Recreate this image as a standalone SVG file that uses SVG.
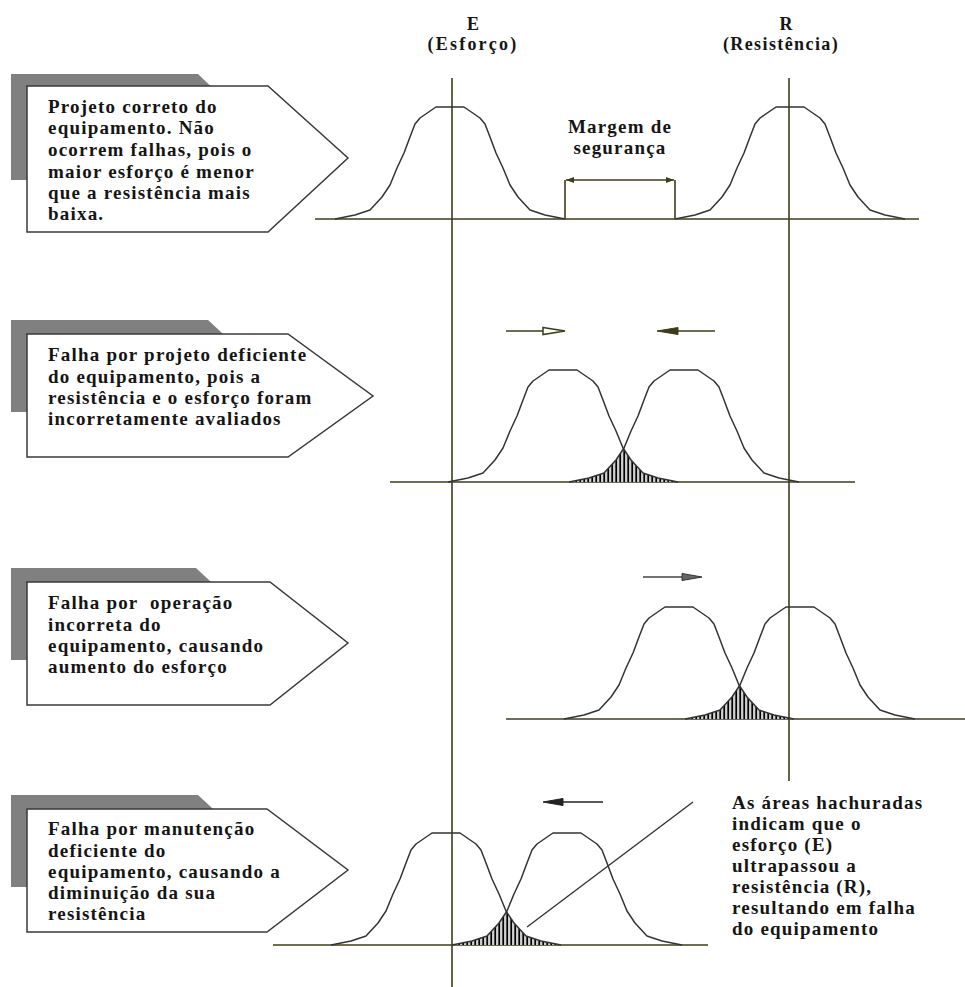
<svg xmlns="http://www.w3.org/2000/svg" xmlns:xlink="http://www.w3.org/1999/xlink" width="965" height="987" viewBox="0 0 965 987">
  <style>
    .txt { font-family: "Liberation Serif", "Times New Roman", serif; font-weight: bold; font-size: 19px; fill: #151515; letter-spacing: 1.2px; }
    .hdr { font-family: "Liberation Serif", "Times New Roman", serif; font-weight: bold; font-size: 18px; fill: #151515; text-anchor: middle; }
    .shadow { fill: #808080; }
    .box { fill: #fff; stroke: #3a3a3a; stroke-width: 1.5; stroke-linejoin: miter; }
    .axis { stroke: #3c3c1c; stroke-width: 1.6; fill: none; }
    .curve { fill: none; stroke: #333; stroke-width: 1.5; stroke-linejoin: round; }
    .arrow { stroke: #3c3c1c; stroke-width: 1.6; fill: none; }
    .hatched { fill: url(#hatch); stroke: none; }
  </style>
  <defs>
    <!-- normal-like distribution outline, centred on x=0, baseline at y=0 -->
    <path id="bell" d="M-115,0 L-95,-4 L-80,-9 L-68,-22 L-60,-34 L-53,-51 L-46,-66 L-40,-82 L-35,-95 L-30,-101 L-14,-112 L14,-112 L30,-101 L35,-95 L40,-82 L46,-66 L53,-51 L60,-34 L68,-22 L80,-9 L95,-4 L115,0"/>
    <pattern id="hatch" width="4" height="10" patternUnits="userSpaceOnUse">
      <rect width="4" height="10" fill="#d0d0d0"/>
      <line x1="1.2" y1="0" x2="1.2" y2="10" stroke="#000" stroke-width="1.7"/>
    </pattern>
    <!-- resistance curves used to cut the overlap out of the effort curves -->
    <clipPath id="clipR2" clipPathUnits="userSpaceOnUse"><use xlink:href="#bell" x="684" y="482"/></clipPath>
    <clipPath id="clipR3" clipPathUnits="userSpaceOnUse"><use xlink:href="#bell" x="800" y="719"/></clipPath>
    <clipPath id="clipR4" clipPathUnits="userSpaceOnUse"><use xlink:href="#bell" x="567" y="945"/></clipPath>
    <marker id="tick" viewBox="0 0 8 6" refX="8" refY="3" markerWidth="8" markerHeight="6" markerUnits="userSpaceOnUse" orient="auto-start-reverse">
      <path d="M0,0 L8,3 L0,6 z" fill="#3c3c1c"/>
    </marker>
  </defs>

  <rect width="965" height="987" fill="#fff"/>

  <!-- column headings -->
  <g id="header">
    <text class="hdr" x="473" y="30">E</text>
    <text class="hdr" x="473" y="50" style="letter-spacing:2.2px">(Esforço)</text>
    <text class="hdr" x="786" y="30">R</text>
    <text class="hdr" x="781" y="50" style="letter-spacing:1.4px">(Resistência)</text>
  </g>

  <!-- reference axes for effort and resistance -->
  <g id="connectors">
    <line class="axis" x1="452" y1="78" x2="452" y2="987"/>
    <line class="axis" x1="789" y1="78" x2="789" y2="781"/>
    <line class="axis" x1="315" y1="219" x2="919" y2="219"/>
    <line class="axis" x1="390" y1="482" x2="855" y2="482"/>
    <line class="axis" x1="506" y1="719" x2="965" y2="719"/>
    <line class="axis" x1="273" y1="945" x2="708" y2="945"/>
    <!-- leader from the hatched area to the note -->
    <line x1="527" y1="927" x2="693" y2="802" stroke="#333" stroke-width="1.4"/>
  </g>

  <!-- case 1: correct design -->
  <g id="box1">
    <polygon class="shadow" points="11,74 198,74 225,100 225,180 11,180"/>
    <polygon class="box" points="27,86 268,86 348,158 268,232 27,232"/>
    <text class="txt" x="48" y="113">Projeto correto do</text>
    <text class="txt" x="48" y="134">equipamento. Não</text>
    <text class="txt" x="48" y="156">ocorrem falhas, pois o</text>
    <text class="txt" x="48" y="178">maior esforço é menor</text>
    <text class="txt" x="48" y="199">que a resistência mais</text>
    <text class="txt" x="48" y="220">baixa.</text>
  </g>
  <g id="panel1">
    <use class="curve" xlink:href="#bell" x="450" y="219"/>
    <use class="curve" xlink:href="#bell" x="790" y="219"/>
    <line class="axis" x1="565" y1="180" x2="565" y2="219"/>
    <line class="axis" x1="675" y1="180" x2="675" y2="219"/>
    <line class="axis" x1="566" y1="180" x2="674" y2="180" marker-start="url(#tick)" marker-end="url(#tick)"/>
    <text class="hdr" x="620" y="133" style="font-size:19px;letter-spacing:1.2px">Margem de</text>
    <text class="hdr" x="620" y="154" style="font-size:19px;letter-spacing:1.2px">segurança</text>
  </g>

  <!-- case 2: deficient design -->
  <g id="box2">
    <polygon class="shadow" points="11,320 208,320 235,345 235,412 11,412"/>
    <polygon class="box" points="27,334 288,334 373,396 288,457 27,457"/>
    <text class="txt" x="48" y="361">Falha por projeto deficiente</text>
    <text class="txt" x="48" y="383">do equipamento, pois a</text>
    <text class="txt" x="48" y="404">resistência e o esforço foram</text>
    <text class="txt" x="48" y="425">incorretamente avaliados</text>
  </g>
  <g id="panel2">
    <g clip-path="url(#clipR2)">
      <use class="hatched" xlink:href="#bell" x="563" y="482"/>
    </g>
    <use class="curve" xlink:href="#bell" x="563" y="482"/>
    <use class="curve" xlink:href="#bell" x="684" y="482"/>
    <line class="arrow" x1="506" y1="331" x2="544" y2="331"/>
    <polygon points="543,327.5 565,331 543,334.5" fill="#fff" stroke="#3c3c1c" stroke-width="1.5"/>
    <line class="arrow" x1="677" y1="331" x2="715" y2="331"/>
    <polygon points="678,327.5 657,331 678,334.5" fill="#3c3c1c" stroke="#3c3c1c" stroke-width="1"/>
  </g>

  <!-- case 3: incorrect operation -->
  <g id="box3">
    <polygon class="shadow" points="11,568 196,568 225,595 225,660 11,660"/>
    <polygon class="box" points="27,582 270,582 348,643 270,705 27,705"/>
    <text class="txt" x="48" y="609" xml:space="preserve">Falha por  operação</text>
    <text class="txt" x="48" y="631">incorreta do</text>
    <text class="txt" x="48" y="652">equipamento, causando</text>
    <text class="txt" x="48" y="673">aumento do esforço</text>
  </g>
  <g id="panel3">
    <g clip-path="url(#clipR3)">
      <use class="hatched" xlink:href="#bell" x="679" y="719"/>
    </g>
    <use class="curve" xlink:href="#bell" x="679" y="719"/>
    <use class="curve" xlink:href="#bell" x="800" y="719"/>
    <line x1="643" y1="577" x2="683" y2="577" stroke="#444" stroke-width="1.5"/>
    <polygon points="682,573.5 702,577 682,580.5" fill="#666" stroke="#333" stroke-width="1"/>
  </g>

  <!-- case 4: deficient maintenance -->
  <g id="box4">
    <polygon class="shadow" points="11,795 198,795 225,820 225,887 11,887"/>
    <polygon class="box" points="27,809 267,809 348,870 267,932 27,932"/>
    <text class="txt" x="48" y="835">Falha por manutenção</text>
    <text class="txt" x="48" y="857">deficiente do</text>
    <text class="txt" x="48" y="878">equipamento, causando a</text>
    <text class="txt" x="48" y="899">diminuição da sua</text>
    <text class="txt" x="48" y="920">resistência</text>
  </g>
  <g id="panel4">
    <g clip-path="url(#clipR4)">
      <use class="hatched" xlink:href="#bell" x="446" y="945"/>
    </g>
    <use class="curve" xlink:href="#bell" x="446" y="945"/>
    <use class="curve" xlink:href="#bell" x="567" y="945"/>
    <line x1="562" y1="802" x2="603" y2="802" stroke="#222" stroke-width="1.6"/>
    <polygon points="563,798.5 543,802 563,805.5" fill="#222" stroke="#222" stroke-width="1"/>
  </g>

  <!-- note on the hatched areas -->
  <g id="note">
    <text class="txt" x="732" y="809">As áreas hachuradas</text>
    <text class="txt" x="732" y="830">indicam que o</text>
    <text class="txt" x="732" y="851">esforço (E)</text>
    <text class="txt" x="732" y="872">ultrapassou a</text>
    <text class="txt" x="732" y="893">resistência (R),</text>
    <text class="txt" x="732" y="914">resultando em falha</text>
    <text class="txt" x="732" y="935">do equipamento</text>
  </g>
</svg>
